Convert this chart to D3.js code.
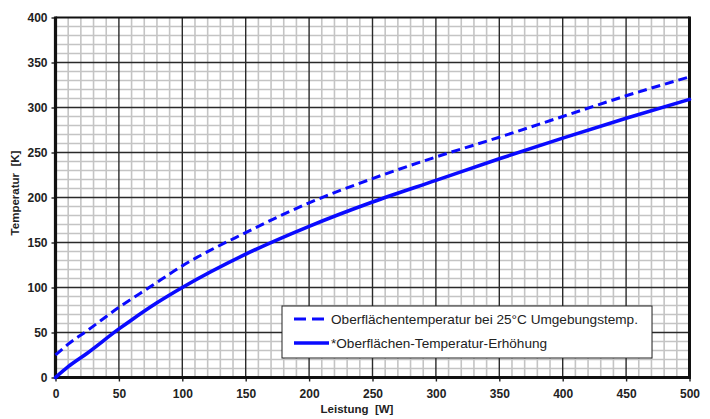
<!DOCTYPE html>
<html>
<head>
<meta charset="utf-8">
<script src="https://cdn.jsdelivr.net/npm/d3@7"></script>
<style>
  body { margin: 0; background: #fff; }
  svg text { font-family: "Liberation Sans", Arial, sans-serif; fill: #222; }
  .tick-label { font-size: 12px; font-weight: bold; }
  .axis-title { font-size: 11.5px; font-weight: bold; white-space: pre; }
  .legend-text { font-size: 13.6px; }
</style>
</head>
<body>
<svg id="chart"></svg>
<script>
// DATA
const leistung      = [0, 10, 25, 50, 60, 80, 100, 150, 200, 250, 300, 350, 400, 450, 500];
const tempErhoehung = [0, 12, 27, 54, 64, 83, 100, 137, 168, 195, 219, 243, 266, 288, 309];

const leistungDashed = [0, 10, 25, 50, 75, 100, 150, 200, 250, 300, 350, 400, 450, 500];
const tempOberflaeche = [25, 37, 52, 78, 101, 124, 161, 194, 221, 245, 267, 290, 313, 334];

const xTicks = [0, 50, 100, 150, 200, 250, 300, 350, 400, 450, 500];
const yTicks = [0, 50, 100, 150, 200, 250, 300, 350, 400];

const legendLabels = [
  "Oberflächentemperatur bei 25°C Umgebungstemp.",
  "*Oberflächen-Temperatur-Erhöhung"
];

// LAYOUT
const width = 710;
const height = 419;
const margin = {top: 17.5, right: 20.5, bottom: 41.5, left: 55.5};

const svg = d3.select("#chart")
  .attr("width", width)
  .attr("height", height);

const x = d3.scaleLinear()
  .domain([0, 500])
  .range([margin.left, width - margin.right]);

const y = d3.scaleLinear()
  .domain([0, 400])
  .range([height - margin.bottom, margin.top]);

// grid: minor every 10, major every 50
const minorX = d3.range(10, 500, 10).filter(v => v % 50 != 0);
const minorY = d3.range(10, 400, 10).filter(v => v % 50 != 0);

const grid = svg.append("g");

grid.selectAll(".minor-x").data(minorX).enter()
  .append("line")
  .attr("x1", d => x(d)).attr("x2", d => x(d))
  .attr("y1", y(0)).attr("y2", y(400))
  .attr("stroke", "#c4c4c4").attr("stroke-width", 1.6);

grid.selectAll(".minor-y").data(minorY).enter()
  .append("line")
  .attr("y1", d => y(d)).attr("y2", d => y(d))
  .attr("x1", x(0)).attr("x2", x(500))
  .attr("stroke", "#c4c4c4").attr("stroke-width", 1.6);

grid.selectAll(".major-x").data(xTicks.slice(1, -1)).enter()
  .append("line")
  .attr("x1", d => x(d)).attr("x2", d => x(d))
  .attr("y1", y(0)).attr("y2", y(400))
  .attr("stroke", "#2a2a2a").attr("stroke-width", 1.4);

grid.selectAll(".major-y").data(yTicks.slice(1, -1)).enter()
  .append("line")
  .attr("y1", d => y(d)).attr("y2", d => y(d))
  .attr("x1", x(0)).attr("x2", x(500))
  .attr("stroke", "#2a2a2a").attr("stroke-width", 1.6);

// axes
const xAxis = d3.axisBottom(x).tickValues(xTicks).tickSize(4).tickPadding(6);
const yAxis = d3.axisLeft(y).tickValues(yTicks).tickSize(4).tickPadding(4);

const gx = svg.append("g")
  .attr("transform", `translate(0,${y(0)})`)
  .call(xAxis);
const gy = svg.append("g")
  .attr("transform", `translate(${x(0)},0)`)
  .call(yAxis);

[gx, gy].forEach(g => {
  g.select(".domain").remove();
  g.selectAll(".tick line").attr("stroke", "#222").attr("stroke-width", 1.4);
  g.selectAll(".tick text").attr("class", "tick-label").attr("fill", "#222");
});
gx.selectAll(".tick text").attr("dy", "0.85em");

// plot border
svg.append("line")
  .attr("x1", x(0)).attr("x2", x(500)).attr("y1", y(400)).attr("y2", y(400))
  .attr("stroke", "#111").attr("stroke-width", 2.2);
svg.append("line")
  .attr("x1", x(500)).attr("x2", x(500)).attr("y1", y(400) - 1).attr("y2", y(0))
  .attr("stroke", "#111").attr("stroke-width", 3);
svg.append("line")
  .attr("x1", x(0)).attr("x2", x(0)).attr("y1", y(400) - 1).attr("y2", y(0) + 1.5)
  .attr("stroke", "#111").attr("stroke-width", 3.2);
svg.append("line")
  .attr("x1", x(0) - 1.5).attr("x2", x(500) + 1.5).attr("y1", y(0)).attr("y2", y(0))
  .attr("stroke", "#111").attr("stroke-width", 3);

// curves
const line = d3.line()
  .x(d => x(d[0]))
  .y(d => y(d[1]))
  .curve(d3.curveMonotoneX);

svg.append("path")
  .datum(d3.zip(leistungDashed, tempOberflaeche))
  .attr("d", line)
  .attr("fill", "none")
  .attr("stroke", "#0a0aff")
  .attr("stroke-width", 3)
  .attr("stroke-dasharray", "9,5");

svg.append("path")
  .datum(d3.zip(leistung, tempErhoehung))
  .attr("d", line)
  .attr("fill", "none")
  .attr("stroke", "#0a0aff")
  .attr("stroke-width", 3.6)
  .attr("stroke-linecap", "round");

// axis titles
svg.append("text")
  .attr("class", "axis-title")
  .attr("transform", "translate(19,193) rotate(-90)")
  .attr("text-anchor", "middle")
  .text("Temperatur  [K]");

svg.append("text")
  .attr("class", "axis-title")
  .attr("x", 357)
  .attr("y", 413)
  .attr("text-anchor", "middle")
  .text("Leistung  [W]");

// legend
const legend = svg.append("g").attr("transform", "translate(282,306)");
legend.append("rect")
  .attr("width", 370).attr("height", 52)
  .attr("fill", "#fff").attr("stroke", "#222").attr("stroke-width", 1);

const legendRows = legend.selectAll(".row").data(legendLabels).enter()
  .append("g")
  .attr("transform", (d, i) => `translate(0,${13 + i * 24})`);

legendRows.append("line")
  .attr("x1", 12).attr("x2", 47)
  .attr("stroke", "#0a0aff")
  .attr("stroke-width", (d, i) => i == 0 ? 3 : 3.6)
  .attr("stroke-dasharray", (d, i) => i == 0 ? "12,6" : null);

legendRows.append("text")
  .attr("class", "legend-text")
  .attr("x", 49)
  .attr("y", 5)
  .text(d => d);
</script>
</body>
</html>
